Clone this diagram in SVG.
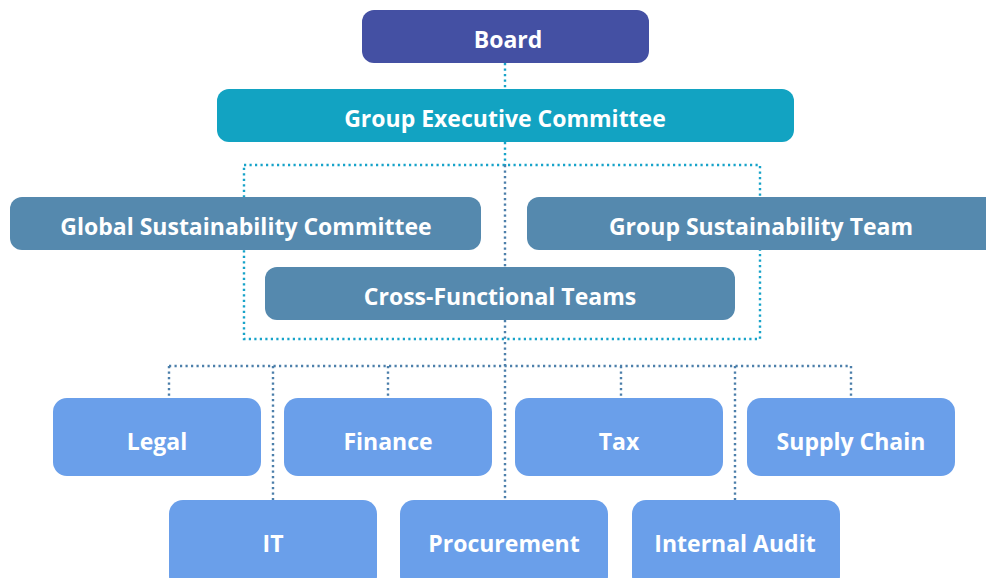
<svg xmlns="http://www.w3.org/2000/svg" width="986" height="578" viewBox="0 0 986 578">
<style>
.t{font-family:"Open Sans","Liberation Sans",sans-serif;font-weight:700;font-size:23px;fill:#fff;text-anchor:middle;dominant-baseline:central}
.teal{stroke:#17A3C9;stroke-width:2.4;fill:none;stroke-dasharray:2.2 3.3}
.blue{stroke:#4C7FAA;stroke-width:2.4;fill:none;stroke-dasharray:2.2 3.3}
.mid{fill:#5589AE}
.low{fill:#6A9FEA}
</style>
<rect width="986" height="578" fill="#fff"/>
<g id="connectors">
<path class="teal" d="M505 63V89M505 142V165M244 165H760V339H244Z"/>
<path class="blue" d="M505 165V267M505 320V500M169 366H851M169 366V402M273 366V502M388 366V400M621 366V400M735 366V502M851 366V402"/>
</g>
<g id="board"><rect x="362" y="10" width="287" height="53" rx="12" fill="#4450A3"/><text class="t" x="508" y="39">Board</text></g>
<g id="gec"><rect x="217" y="89" width="577" height="53" rx="12" fill="#12A3C2"/><text class="t" x="505" y="118">Group Executive Committee</text></g>
<g id="gsc"><rect class="mid" x="10" y="197" width="471" height="53" rx="12"/><text class="t" x="246" y="226">Global Sustainability Committee</text></g>
<g id="gst"><rect class="mid" x="527" y="197" width="480" height="53" rx="12"/><text class="t" x="761" y="226">Group Sustainability Team</text></g>
<g id="cft"><rect class="mid" x="265" y="267" width="470" height="53" rx="12"/><text class="t" x="500" y="296">Cross-Functional Teams</text></g>
<g id="legal"><rect class="low" x="53" y="398" width="208" height="78" rx="14"/><text class="t" x="157" y="441">Legal</text></g>
<g id="finance"><rect class="low" x="284" y="398" width="208" height="78" rx="14"/><text class="t" x="388" y="441">Finance</text></g>
<g id="tax"><rect class="low" x="515" y="398" width="208" height="78" rx="14"/><text class="t" x="619" y="441">Tax</text></g>
<g id="supply"><rect class="low" x="747" y="398" width="208" height="78" rx="14"/><text class="t" x="851" y="441">Supply Chain</text></g>
<g id="it"><rect class="low" x="169" y="500" width="208" height="90" rx="14"/><text class="t" x="273" y="543">IT</text></g>
<g id="procurement"><rect class="low" x="400" y="500" width="208" height="90" rx="14"/><text class="t" x="504" y="543">Procurement</text></g>
<g id="audit"><rect class="low" x="632" y="500" width="208" height="90" rx="14"/><text class="t" x="735" y="543">Internal Audit</text></g>
</svg>
